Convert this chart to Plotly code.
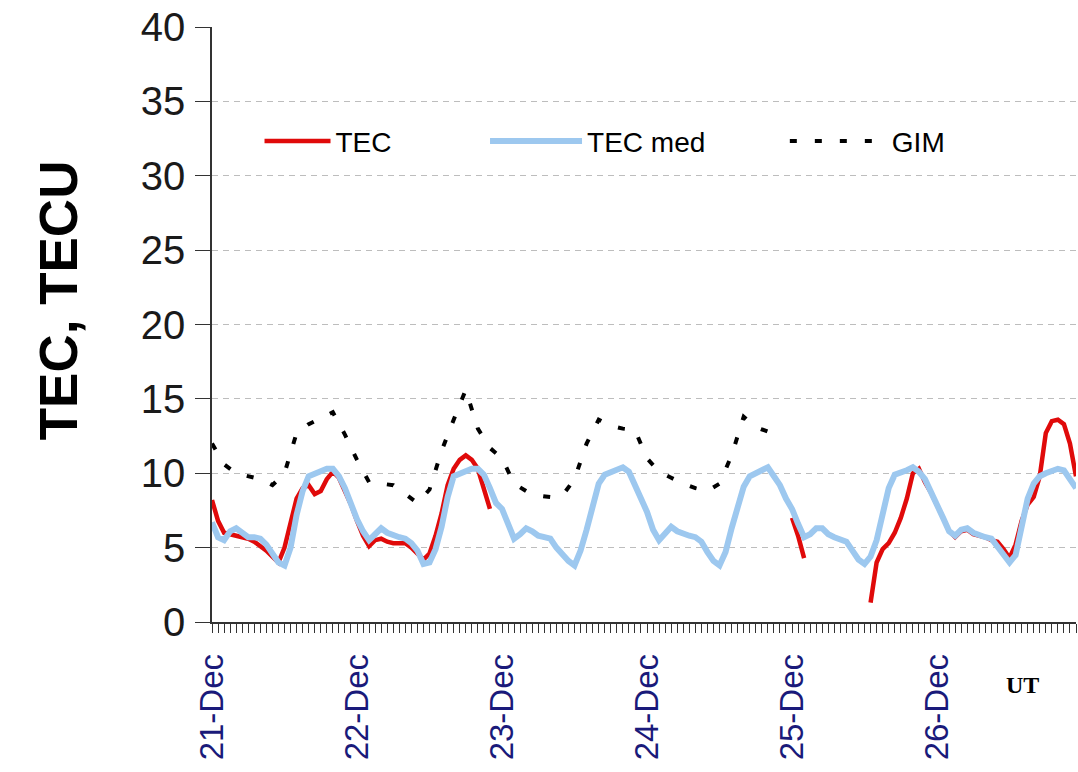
import plotly.graph_objects as go

# ---------------- data ----------------
DAY_LABELS = ["21-Dec", "22-Dec", "23-Dec", "24-Dec", "25-Dec", "26-Dec"]
DAY_START_HOURS = [0, 24, 48, 72, 96, 120]

# hourly sample times (UT hours since 21-Dec 00:00)
HOURS = list(range(144))

TEC_MED = [
    # 21-Dec
    6.7, 5.7, 5.5, 6.1, 6.3, 6.0, 5.7, 5.7, 5.6, 5.2, 4.5, 4.0,
    3.8, 5.0, 7.2, 8.8, 9.8, 10.0, 10.1, 10.3, 10.3, 9.8, 9.0, 7.9,
    # 22-Dec
    6.9, 6.1, 5.5, 5.9, 6.3, 6.0, 5.8, 5.7, 5.6, 5.3, 4.8, 3.9,
    4.0, 4.9, 6.4, 8.4, 9.8, 10.0, 10.1, 10.3, 10.3, 9.9, 9.0, 8.0,
    # 23-Dec
    7.6, 6.5, 5.6, 5.9, 6.3, 6.1, 5.8, 5.7, 5.6, 5.0, 4.5, 4.1,
    3.8, 4.8, 6.2, 7.6, 9.3, 9.9, 10.1, 10.3, 10.4, 10.1, 9.3, 8.3,
    # 24-Dec
    7.4, 6.2, 5.5, 5.9, 6.4, 6.1, 5.9, 5.8, 5.7, 5.4, 4.7, 4.1,
    3.8, 4.7, 6.3, 7.9, 9.1, 9.8, 10.0, 10.2, 10.4, 9.8, 9.2, 8.3,
    # 25-Dec
    7.6, 6.6, 5.7, 5.9, 6.3, 6.3, 5.9, 5.7, 5.6, 5.4, 4.8, 4.2,
    3.9, 4.4, 5.5, 7.3, 9.0, 9.9, 10.0, 10.2, 10.4, 10.1, 9.6, 8.8,
    # 26-Dec
    8.0, 7.0, 6.1, 5.8, 6.2, 6.3, 6.0, 5.8, 5.7, 5.6, 5.1, 4.6,
    4.0, 4.5, 6.4, 8.3, 9.3, 9.8, 10.0, 10.1, 10.3, 10.2, 9.6, 9.0,
]

N = None
TEC = [
    # 21-Dec
    8.2, 6.8, 6.0, 5.9, 5.8, 5.7, 5.6, 5.4, 5.1, 4.8, 4.4, 4.0,
    5.0, 6.8, 8.3, 9.0, 9.2, 8.6, 8.8, 9.6, 10.1, 9.7, 8.8, 7.9,
    # 22-Dec
    6.8, 5.8, 5.1, 5.5, 5.6, 5.4, 5.3, 5.3, 5.3, 5.0, 4.6, 4.2,
    4.6, 5.8, 7.3, 9.2, 10.3, 10.9, 11.2, 10.9, 10.3, 9.0, 7.6, N,
    # 23-Dec
    N, N, N, N, N, N, N, N, N, N, N, N,
    N, N, N, N, N, N, N, N, N, N, N, N,
    # 24-Dec
    N, N, N, N, N, N, N, N, N, N, N, N,
    N, N, N, N, N, N, N, N, N, N, N, N,
    # 25-Dec
    7.0, 5.8, 4.3, N, N, N, N, N, N, N, N, N,
    N, 1.3, 4.0, 4.9, 5.3, 6.0, 7.0, 8.3, 10.0, 10.3, 9.4, 8.7,
    # 26-Dec
    7.9, 7.0, 6.1, 5.7, 6.1, 6.2, 5.9, 5.8, 5.7, 5.5, 5.4, 4.9,
    4.3, 5.2, 6.8, 7.9, 8.4, 9.8, 12.7, 13.5, 13.6, 13.3, 12.0, 9.8,
]

# GIM values every 2 hours, 21-Dec 00 UT to 24-Dec 20 UT
GIM_HOURS = list(range(0, 93, 2))
GIM = [
    12.0, 10.6, 10.0, 9.8, 9.6, 9.2, 10.0, 12.7, 13.3, 13.7, 14.1, 12.6,
    10.9, 9.4, 9.3, 9.2, 8.6, 8.0, 8.9, 11.5, 13.6, 15.6, 13.0, 11.7,
    11.0, 9.3, 8.8, 8.5, 8.4, 8.5, 9.6, 12.0, 13.6, 13.2, 13.0, 12.9,
    11.0, 10.1, 9.7, 9.3, 9.0, 8.8, 9.3, 11.2, 13.8, 13.1, 12.8,
]

Y_TICKS = [0, 5, 10, 15, 20, 25, 30, 35, 40]

FONT = "Liberation Sans, Arial, sans-serif"

# ---------------- figure ----------------
fig = go.Figure()

fig.add_trace(go.Scatter(
    x=HOURS, y=TEC, name="TEC", mode="lines",
    line=dict(color="#E00A0A", width=4.5),
    connectgaps=False, legend="legend",
))
fig.add_trace(go.Scatter(
    x=HOURS, y=TEC_MED, name="TEC med", mode="lines",
    line=dict(color="#9DC8EF", width=6), legend="legend2",
))
fig.add_trace(go.Scatter(
    x=GIM_HOURS, y=GIM, name="GIM", mode="lines",
    line=dict(color="#000000", width=4, dash="7px,18px"), legend="legend3",
))

legend_common = dict(
    orientation="h", yanchor="middle", xanchor="left", y=0.808,
    font=dict(size=28, family=FONT, color="#000000"),
    bgcolor="rgba(0,0,0,0)", borderwidth=0,
)

fig.update_layout(
    width=1078, height=772,
    margin=dict(l=212, r=2, t=27, b=150),
    paper_bgcolor="white", plot_bgcolor="white",
    font=dict(family=FONT, color="#000000"),
    showlegend=True,
    legend=dict(legend_common, x=0.055, itemwidth=66),
    legend2=dict(legend_common, x=0.316, itemwidth=92),
    legend3=dict(legend_common, x=0.663, itemwidth=97),
    annotations=[
        dict(text="<b>TEC, TECU</b>", xref="paper", yref="paper",
             x=-0.178, y=0.541, xanchor="center", yanchor="middle",
             textangle=-90, showarrow=False,
             font=dict(size=53, family=FONT, color="#000000")),
        dict(text="<b>UT</b>", xref="paper", yref="paper",
             x=0.9375, y=-0.106, xanchor="center", yanchor="middle",
             showarrow=False,
             font=dict(size=24, family="Liberation Serif, Times New Roman, serif", color="#000000")),
    ],
)

fig.update_xaxes(
    range=[0, 143], automargin=False,
    tickmode="array", tickvals=DAY_START_HOURS, ticktext=DAY_LABELS,
    tickangle=-90,
    tickfont=dict(size=33, family=FONT, color="#1A1A7A"),
    ticks="outside", ticklen=9, tickwidth=1, tickcolor="#333333",
    ticklabelstandoff=8, ticklabeloverflow="allow",
    minor=dict(dtick=1, tick0=0, ticks="outside", ticklen=9, tickwidth=1, tickcolor="#333333",
               showgrid=False),
    showline=True, linecolor="#333333", linewidth=1.5,
    showgrid=False, zeroline=False,
)

fig.update_yaxes(
    range=[0, 40], automargin=False,
    tickmode="array", tickvals=Y_TICKS,
    tickfont=dict(size=40, family=FONT, color="#1A1A1A"),
    ticks="outside", ticklen=15, tickwidth=1, tickcolor="#333333",
    ticklabelstandoff=2, ticklabeloverflow="allow",
    showline=True, linecolor="#333333", linewidth=1.5,
    showgrid=True, gridcolor="#BDBDBD", gridwidth=1, griddash="6px,5px",
    zeroline=False,
)

# remove the browser's default 8px page margin so the figure fills the window
fig.write_html("out.html", config={"displayModeBar": False},
               post_script="document.body.style.margin='0';")
